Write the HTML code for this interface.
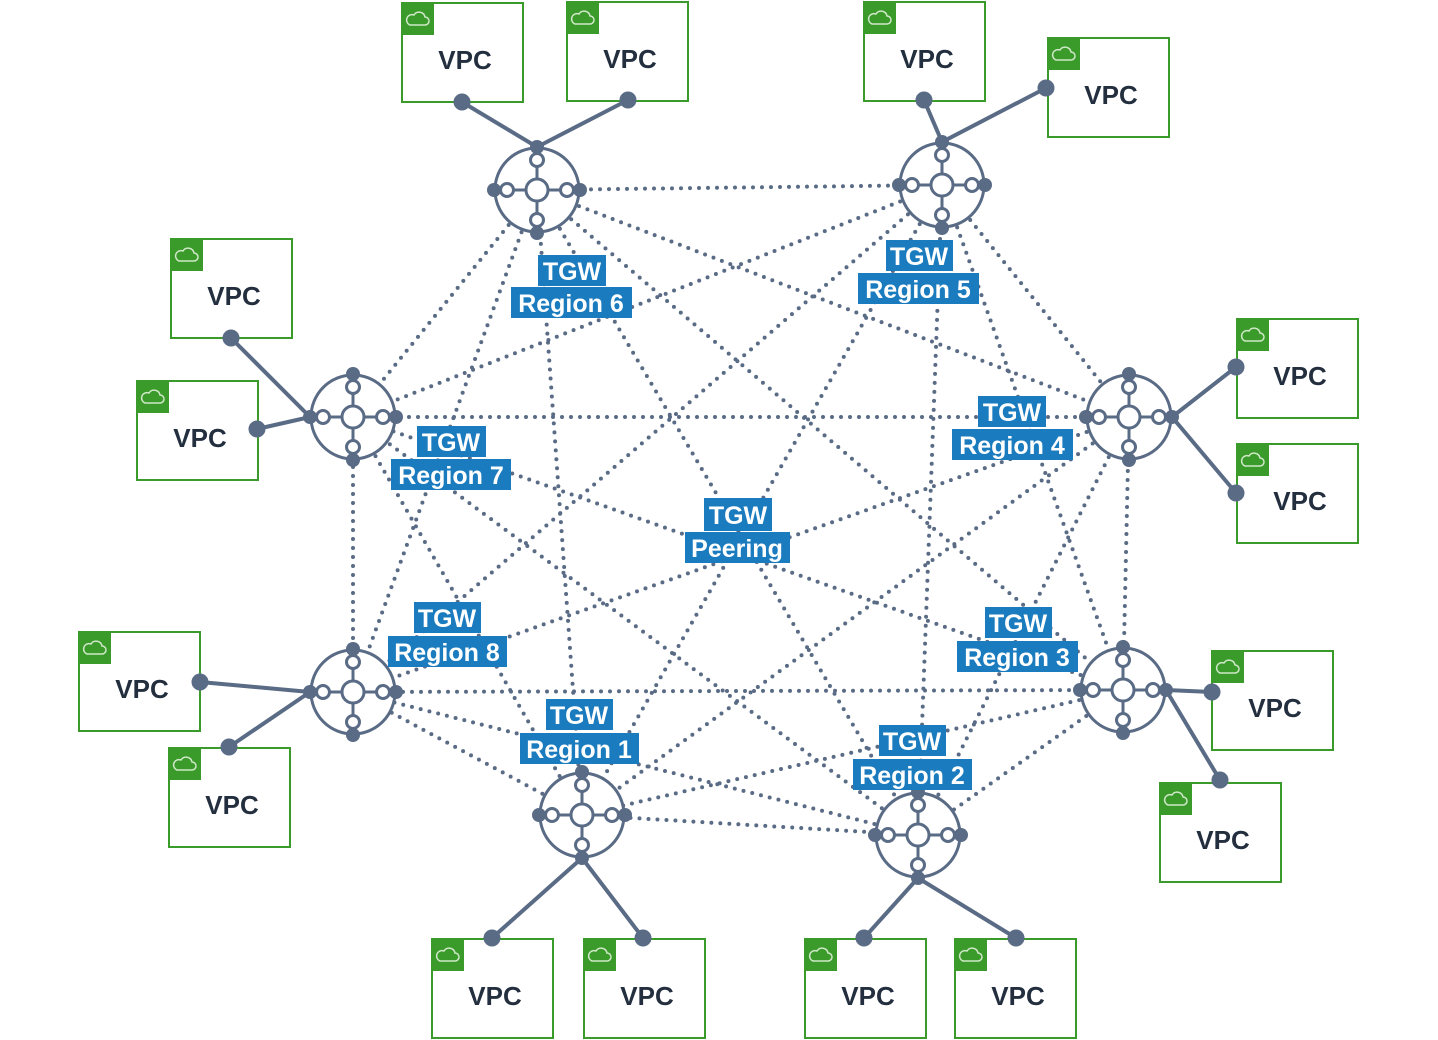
<!DOCTYPE html>
<html><head><meta charset="utf-8"><style>
html,body{margin:0;padding:0;background:#fff;}
svg{display:block}
.lbl{font-family:"Liberation Sans",sans-serif;font-weight:bold;font-size:25px;fill:#fff;text-anchor:middle}
.vpc{font-family:"Liberation Sans",sans-serif;font-weight:bold;font-size:26px;fill:#232f3e;text-anchor:middle}
</style></head><body>
<svg width="1438" height="1040" viewBox="0 0 1438 1040" xmlns="http://www.w3.org/2000/svg">
<defs>
<g id="node">
<circle r="42" fill="#fff" stroke="#5a6b85" stroke-width="3"/>
<line x1="-30" y1="0" x2="30" y2="0" stroke="#5a6b85" stroke-width="3"/>
<line x1="0" y1="-30" x2="0" y2="30" stroke="#5a6b85" stroke-width="3"/>
<circle r="11" fill="#fff" stroke="#5a6b85" stroke-width="3"/>
<circle cx="-30" r="6.5" fill="#fff" stroke="#5a6b85" stroke-width="3"/>
<circle cx="30" r="6.5" fill="#fff" stroke="#5a6b85" stroke-width="3"/>
<circle cy="-30" r="6.5" fill="#fff" stroke="#5a6b85" stroke-width="3"/>
<circle cy="30" r="6.5" fill="#fff" stroke="#5a6b85" stroke-width="3"/>
<circle cx="-43" r="7" fill="#5a6b85"/>
<circle cx="43" r="7" fill="#5a6b85"/>
<circle cy="-43" r="7" fill="#5a6b85"/>
<circle cy="43" r="7" fill="#5a6b85"/>
</g>
<g id="vpc">
<rect x="1" y="1" width="121" height="99" fill="#fff" stroke="#3a9a2a" stroke-width="2"/>
<rect x="0" y="0" width="33" height="33" fill="#3a9a2a"/>
<path d="M9 23 h15 a4 4 0 0 0 0-8 a6 6 0 0 0-11-2 a4.5 4.5 0 0 0-4 10z" fill="none" stroke="#cfe8c8" stroke-width="1.5"/>
<text class="vpc" x="64" y="67">VPC</text>
</g>
</defs>
<g stroke="#5a6b85" stroke-width="4" stroke-linecap="round" stroke-dasharray="0 9" fill="none">
<line x1="537" y1="190" x2="942" y2="185"/>
<line x1="537" y1="190" x2="1129" y2="417"/>
<line x1="537" y1="190" x2="1123" y2="690"/>
<line x1="537" y1="190" x2="918" y2="835"/>
<line x1="537" y1="190" x2="582" y2="815"/>
<line x1="537" y1="190" x2="353" y2="692"/>
<line x1="537" y1="190" x2="353" y2="417"/>
<line x1="942" y1="185" x2="1129" y2="417"/>
<line x1="942" y1="185" x2="1123" y2="690"/>
<line x1="942" y1="185" x2="918" y2="835"/>
<line x1="942" y1="185" x2="582" y2="815"/>
<line x1="942" y1="185" x2="353" y2="692"/>
<line x1="942" y1="185" x2="353" y2="417"/>
<line x1="1129" y1="417" x2="1123" y2="690"/>
<line x1="1129" y1="417" x2="918" y2="835"/>
<line x1="1129" y1="417" x2="582" y2="815"/>
<line x1="1129" y1="417" x2="353" y2="692"/>
<line x1="1129" y1="417" x2="353" y2="417"/>
<line x1="1123" y1="690" x2="918" y2="835"/>
<line x1="1123" y1="690" x2="582" y2="815"/>
<line x1="1123" y1="690" x2="353" y2="692"/>
<line x1="1123" y1="690" x2="353" y2="417"/>
<line x1="918" y1="835" x2="582" y2="815"/>
<line x1="918" y1="835" x2="353" y2="692"/>
<line x1="918" y1="835" x2="353" y2="417"/>
<line x1="582" y1="815" x2="353" y2="692"/>
<line x1="582" y1="815" x2="353" y2="417"/>
<line x1="353" y1="692" x2="353" y2="417"/>
</g>
<use href="#vpc" x="401" y="2"/>
<use href="#vpc" x="566" y="1"/>
<use href="#vpc" x="863" y="1"/>
<use href="#vpc" x="1047" y="37"/>
<use href="#vpc" x="170" y="238"/>
<use href="#vpc" x="136" y="380"/>
<use href="#vpc" x="1236" y="318"/>
<use href="#vpc" x="1236" y="443"/>
<use href="#vpc" x="78" y="631"/>
<use href="#vpc" x="168" y="747"/>
<use href="#vpc" x="1211" y="650"/>
<use href="#vpc" x="1159" y="782"/>
<use href="#vpc" x="431" y="938"/>
<use href="#vpc" x="583" y="938"/>
<use href="#vpc" x="804" y="938"/>
<use href="#vpc" x="954" y="938"/>
<g stroke="#5a6b85" stroke-width="4" fill="#5a6b85">
<line x1="462" y1="102" x2="537" y2="147"/><circle cx="462" cy="102" r="6.5"/>
<line x1="628" y1="100" x2="537" y2="147"/><circle cx="628" cy="100" r="6.5"/>
<line x1="924" y1="100" x2="942" y2="142"/><circle cx="924" cy="100" r="6.5"/>
<line x1="1046" y1="88" x2="942" y2="142"/><circle cx="1046" cy="88" r="6.5"/>
<line x1="231" y1="338" x2="310" y2="417"/><circle cx="231" cy="338" r="6.5"/>
<line x1="257" y1="429" x2="310" y2="417"/><circle cx="257" cy="429" r="6.5"/>
<line x1="1236" y1="367" x2="1172" y2="417"/><circle cx="1236" cy="367" r="6.5"/>
<line x1="1236" y1="493" x2="1172" y2="417"/><circle cx="1236" cy="493" r="6.5"/>
<line x1="200" y1="682" x2="310" y2="692"/><circle cx="200" cy="682" r="6.5"/>
<line x1="229" y1="747" x2="310" y2="692"/><circle cx="229" cy="747" r="6.5"/>
<line x1="1212" y1="692" x2="1166" y2="690"/><circle cx="1212" cy="692" r="6.5"/>
<line x1="1220" y1="780" x2="1166" y2="690"/><circle cx="1220" cy="780" r="6.5"/>
<line x1="492" y1="938" x2="582" y2="858"/><circle cx="492" cy="938" r="6.5"/>
<line x1="643" y1="938" x2="582" y2="858"/><circle cx="643" cy="938" r="6.5"/>
<line x1="864" y1="938" x2="918" y2="878"/><circle cx="864" cy="938" r="6.5"/>
<line x1="1016" y1="938" x2="918" y2="878"/><circle cx="1016" cy="938" r="6.5"/>
</g>
<use href="#node" x="537" y="190"/>
<use href="#node" x="942" y="185"/>
<use href="#node" x="1129" y="417"/>
<use href="#node" x="1123" y="690"/>
<use href="#node" x="918" y="835"/>
<use href="#node" x="582" y="815"/>
<use href="#node" x="353" y="692"/>
<use href="#node" x="353" y="417"/>
<g fill="#1a7bbf">
<rect x="538" y="255" width="68" height="31"/><rect x="511" y="287" width="121" height="31"/>
<rect x="886" y="240" width="67" height="31"/><rect x="858" y="273" width="121" height="31"/>
<rect x="978" y="396" width="68" height="31"/><rect x="952" y="429" width="121" height="31"/>
<rect x="417" y="426" width="69" height="31"/><rect x="391" y="459" width="120" height="31"/>
<rect x="704" y="498" width="68" height="33"/><rect x="685" y="532" width="105" height="31"/>
<rect x="414" y="602" width="67" height="31"/><rect x="388" y="636" width="119" height="31"/>
<rect x="985" y="607" width="67" height="31"/><rect x="957" y="641" width="121" height="31"/>
<rect x="546" y="699" width="67" height="31"/><rect x="520" y="733" width="119" height="31"/>
<rect x="879" y="725" width="67" height="31"/><rect x="853" y="759" width="119" height="31"/>
</g>
<g>
<text class="lbl" x="572" y="280">TGW</text><text class="lbl" x="571" y="312">Region 6</text>
<text class="lbl" x="919" y="265">TGW</text><text class="lbl" x="918" y="298">Region 5</text>
<text class="lbl" x="1012" y="421">TGW</text><text class="lbl" x="1012" y="454">Region 4</text>
<text class="lbl" x="451" y="451">TGW</text><text class="lbl" x="451" y="484">Region 7</text>
<text class="lbl" x="738" y="524">TGW</text><text class="lbl" x="737" y="557">Peering</text>
<text class="lbl" x="447" y="627">TGW</text><text class="lbl" x="447" y="661">Region 8</text>
<text class="lbl" x="1018" y="632">TGW</text><text class="lbl" x="1017" y="666">Region 3</text>
<text class="lbl" x="579" y="724">TGW</text><text class="lbl" x="579" y="758">Region 1</text>
<text class="lbl" x="912" y="750">TGW</text><text class="lbl" x="912" y="784">Region 2</text>
</g>
</svg>
</body></html>
